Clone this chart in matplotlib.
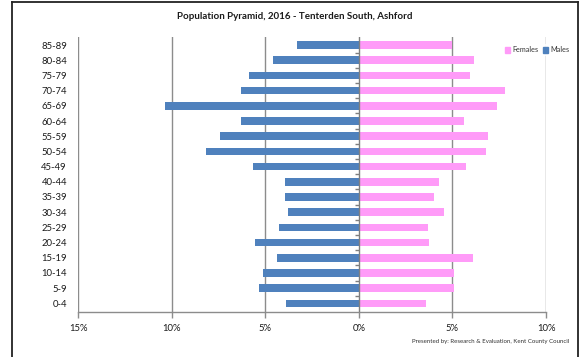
import numpy as np
import matplotlib
matplotlib.use('Agg')
import matplotlib.pyplot as plt
from matplotlib.lines import Line2D
from matplotlib.patches import Patch

plt.rcParams['font.family'] = ['Lato', 'DejaVu Sans']

age_groups = ['0-4', '5-9', '10-14', '15-19', '20-24', '25-29', '30-34', '35-39',
              '40-44', '45-49', '50-54', '55-59', '60-64', '65-69', '70-74',
              '75-79', '80-84', '85-89']
males = [3.91, 5.35, 5.10, 4.36, 5.55, 4.25, 3.80, 3.95, 3.95, 5.66,
         8.14, 7.40, 6.30, 10.33, 6.30, 5.89, 4.59, 3.31]
females = [3.60, 5.09, 5.09, 6.08, 3.74, 3.68, 4.57, 4.04, 4.29, 5.73,
           6.80, 6.92, 5.62, 7.38, 7.83, 5.92, 6.17, 5.00]
x_ticks = [-15, -10, -5, 0, 5, 10]

male_col = '#4F81BD'
female_col = '#FF9BF8'
grid_col = '#8C8C8C'

W, H = 580, 357
fig = plt.figure(figsize=(W / 100, H / 100), dpi=100)
ax = fig.add_axes([78 / W, 1 - 311.7 / H, (546 - 78) / W, (311.7 - 37) / H])

y = np.arange(len(age_groups))
ax.barh(y, [-m for m in males], height=0.5, color=male_col, zorder=2)
ax.barh(y, females, height=0.5, color=female_col, zorder=2)

ax.set_xlim(-15, 10)
ax.set_ylim(-0.55, len(age_groups) - 0.47)

# vertical gridlines, zero line acts as the category axis
for xt in x_ticks:
    if xt != 0:
        ax.axvline(xt, color=grid_col, lw=1.0, zorder=1)
ax.axvline(0, color='#7F7F7F', lw=1.0, zorder=3)
ax.plot(np.zeros(len(age_groups) - 1), y[:-1] + 0.5, ls='none',
        marker=0, markersize=3, color='#7F7F7F', zorder=3)

for s in ['top', 'right', 'left']:
    ax.spines[s].set_visible(False)
ax.spines['bottom'].set_color('#8C8C8C')
ax.spines['bottom'].set_linewidth(1.0)

ax.set_yticks(y)
ax.set_yticklabels(age_groups, fontsize=6.8, color='#1A1A1A')
ax.tick_params(axis='y', length=0, pad=8)
ax.set_xticks(x_ticks)
ax.set_xticklabels([f'{abs(v)}%' for v in x_ticks], fontsize=6.8, color='#1A1A1A')
ax.tick_params(axis='x', length=4, width=1, color='#8C8C8C', pad=5)

handles = [Patch(color=female_col), Patch(color=male_col)]
leg = fig.legend(handles, ['Females', 'Males'], loc='center',
                 bbox_to_anchor=(537 / W, 1 - 50 / H), ncol=2, frameon=True,
                 fontsize=5.2, handlelength=0.7, handleheight=0.7,
                 handletextpad=0.3, columnspacing=0.6, borderpad=0.3,
                 labelcolor='#333333')
leg.get_frame().set_edgecolor('white')
leg.get_frame().set_linewidth(0)
leg.set_zorder(5)

fig.text(295 / W, 1 - 16.5 / H, 'Population Pyramid, 2016 - Tenterden South, Ashford',
         ha='center', va='center', fontsize=7, fontweight='bold', color='#1A1A1A')
fig.text(569 / W, 1 - 342 / H, 'Presented by: Research & Evaluation, Kent County Council',
         ha='right', va='center', fontsize=4.4, color='#333333')

# outer frame (left, top, right)
frame = dict(color='#222222', lw=1.3, transform=fig.transFigure)
fig.add_artist(Line2D([12 / W, 12 / W], [0, 1 - 2 / H], **frame))
fig.add_artist(Line2D([12 / W, 577.5 / W], [1 - 2 / H, 1 - 2 / H], **frame))
fig.add_artist(Line2D([577.5 / W, 577.5 / W], [0, 1 - 2 / H], **frame))

fig.savefig('out.png', dpi=100)
